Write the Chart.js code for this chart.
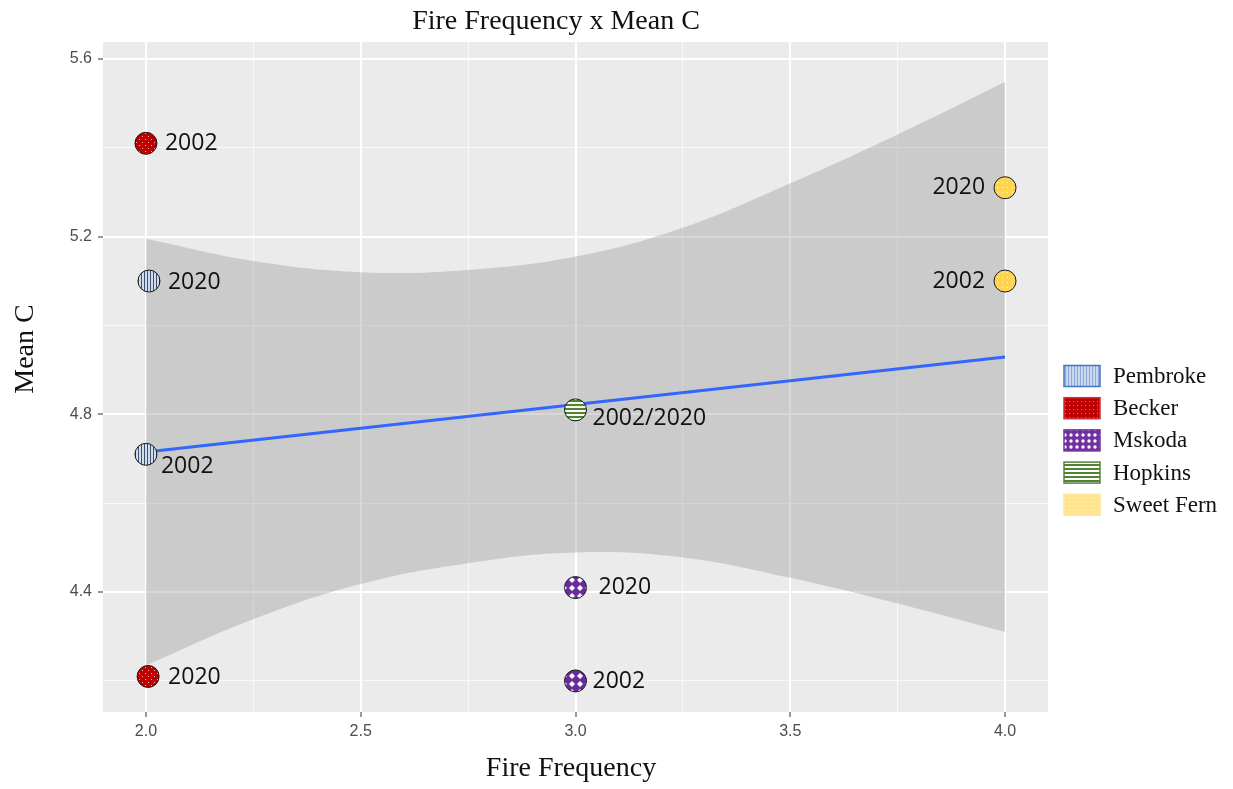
<!DOCTYPE html>
<html lang="en">
<head>
  <meta charset="UTF-8" />
  <title>Fire Frequency x Mean C</title>
  <script src="https://cdn.jsdelivr.net/npm/chart.js"></script>
  <style>
    html, body { margin: 0; padding: 0; background: #fff; }
    #wrap { width: 1233px; height: 789px; }
  </style>
</head>
<body>
  <div id="wrap"><canvas id="chart"></canvas></div>
  <script>
    // observed sites: fire frequency (x), mean C (y), survey year
    const pembroke = [{ x: 2.0, y: 4.71, year: '2002' }, { x: 2.007, y: 5.10, year: '2020' }];
    const becker = [{ x: 2.0, y: 5.41, year: '2002' }, { x: 2.005, y: 4.21, year: '2020' }];
    const mskoda = [{ x: 3.0, y: 4.20, year: '2002' }, { x: 3.0, y: 4.41, year: '2020' }];
    const hopkins = [{ x: 3.0, y: 4.81, year: '2002/2020' }];
    const sweetFern = [{ x: 4.0, y: 5.10, year: '2002' }, { x: 4.0, y: 5.31, year: '2020' }];

    // linear fit and its confidence band
    const fitX = [2, 4];
    const fitY = [4.715, 4.929];
    const bandX = [2, 2.25, 2.5, 2.75, 3, 3.25, 3.5, 3.75, 4];
    const bandUpper = [5.195, 5.145, 5.12, 5.125, 5.155, 5.22, 5.32, 5.43, 5.548];
    const bandLower = [4.235, 4.339, 4.418, 4.465, 4.489, 4.478, 4.432, 4.374, 4.31];

    // axes
    const xGrid = [2, 2.25, 2.5, 2.75, 3, 3.25, 3.5, 3.75, 4];
    const xMajor = [2, 2.5, 3, 3.5, 4];
    const yGrid = [4.2, 4.4, 4.6, 4.8, 5.0, 5.2, 5.4, 5.6];
    const yMajor = [4.4, 4.8, 5.2, 5.6];

    const siteNames = ['Pembroke', 'Becker', 'Mskoda', 'Hopkins', 'Sweet Fern'];
    const siteData = [pembroke, becker, mskoda, hopkins, sweetFern];

    // where each year label sits relative to its point
    const labelPlace = {
      'Pembroke 2002': { dx: 15, dy: 12 },
      'Pembroke 2020': { dx: 19, dy: 1 },
      'Becker 2002': { dx: 19, dy: 0 },
      'Becker 2020': { dx: 20, dy: 1 },
      'Mskoda 2002': { dx: 17, dy: 1 },
      'Mskoda 2020': { dx: 23, dy: 0 },
      'Hopkins 2002/2020': { dx: 17, dy: 9 },
      'Sweet Fern 2002': { dx: -20, dy: 0, right: true },
      'Sweet Fern 2020': { dx: -20, dy: 0, right: true }
    };

    const makePattern = (size, draw) => {
      const c = document.createElement('canvas');
      c.width = size; c.height = size;
      const g = c.getContext('2d');
      draw(g, size);
      return g.createPattern(c, 'repeat');
    };

    const dots = (bg, dot, size, r) => makePattern(size, (g, s) => {
      g.fillStyle = bg; g.fillRect(0, 0, s, s);
      g.fillStyle = dot;
      g.beginPath(); g.arc(s / 2, s / 2, r, 0, Math.PI * 2); g.fill();
    });

    // fills used for the points
    const pointFill = [
      makePattern(3, (g) => { g.fillStyle = '#d3dcea'; g.fillRect(0, 0, 3, 3); g.fillStyle = '#3d5072'; g.fillRect(0, 0, 1, 3); }),
      makePattern(6, (g) => { g.fillStyle = '#c00000'; g.fillRect(0, 0, 6, 6); g.fillStyle = 'rgba(255,220,220,0.8)'; g.fillRect(1, 1, 1, 1); g.fillRect(4, 4, 1, 1); }),
      makePattern(8, (g) => {
        g.fillStyle = '#6a2c9c'; g.fillRect(0, 0, 8, 8);
        g.fillStyle = '#ffffff';
        g.beginPath(); g.moveTo(4, 1); g.lineTo(7, 4); g.lineTo(4, 7); g.lineTo(1, 4); g.closePath(); g.fill();
      }),
      makePattern(4, (g) => { g.fillStyle = '#f4f8f0'; g.fillRect(0, 0, 4, 4); g.fillStyle = '#548235'; g.fillRect(0, 0, 4, 2); }),
      makePattern(5, (g) => { g.fillStyle = '#ffd54f'; g.fillRect(0, 0, 5, 5); g.fillStyle = 'rgba(255,255,255,0.85)'; g.fillRect(2, 2, 1, 1); })
    ];

    // fills and borders used for the legend keys
    const legendFill = [
      makePattern(3, (g) => { g.fillStyle = '#c9d7ef'; g.fillRect(0, 0, 3, 3); g.fillStyle = '#8eaadb'; g.fillRect(0, 0, 1, 3); }),
      makePattern(4, (g) => { g.fillStyle = '#c00000'; g.fillRect(0, 0, 4, 4); g.fillStyle = '#e36b6b'; g.fillRect(1, 1, 1, 1); }),
      dots('#7030a0', '#ffffff', 6, 1.7),
      makePattern(4, (g) => { g.fillStyle = '#ffffff'; g.fillRect(0, 0, 4, 4); g.fillStyle = '#548235'; g.fillRect(0, 0, 4, 2); }),
      makePattern(4, (g) => { g.fillStyle = '#ffe38f'; g.fillRect(0, 0, 4, 4); g.fillStyle = '#fff7dc'; g.fillRect(1, 1, 1, 1); })
    ];
    const legendBorder = ['#4472c4', '#d03030', '#7030a0', '#548235', '#ffe699'];

    const panelPlugin = {
      id: 'panel',
      beforeDraw(chart) {
        const { ctx, chartArea: a } = chart;
        ctx.save();
        ctx.fillStyle = '#ebebeb';
        ctx.fillRect(a.left, a.top, a.right - a.left, a.bottom - a.top);
        ctx.restore();
      }
    };

    const yearLabels = {
      id: 'yearLabels',
      afterDatasetsDraw(chart) {
        const ctx = chart.ctx;
        ctx.save();
        ctx.font = '23px "Open Sans"';
        ctx.fillStyle = '#111';
        ctx.textBaseline = 'middle';
        chart.data.datasets.forEach((ds, i) => {
          if (!ds.site) return;
          chart.getDatasetMeta(i).data.forEach((el, j) => {
            const year = ds.data[j].year;
            const p = labelPlace[ds.site + ' ' + year] || { dx: 18, dy: 0 };
            ctx.textAlign = p.right ? 'right' : 'left';
            ctx.fillText(year, el.x + p.dx, el.y + p.dy);
          });
        });
        ctx.restore();
      }
    };

    const titlesAndLegend = {
      id: 'titlesAndLegend',
      afterDraw(chart) {
        const ctx = chart.ctx;
        ctx.save();
        ctx.fillStyle = '#111';
        ctx.textBaseline = 'middle';
        ctx.textAlign = 'center';
        ctx.font = '28px "Liberation Serif"';
        ctx.fillText('Fire Frequency x Mean C', 556, 22);
        ctx.fillText('Fire Frequency', 571, 769);
        ctx.save();
        ctx.translate(26, 349);
        ctx.rotate(-Math.PI / 2);
        ctx.fillText('Mean C', 0, 0);
        ctx.restore();

        ctx.font = '23px "Liberation Serif"';
        ctx.textAlign = 'left';
        siteNames.forEach((name, i) => {
          const cy = 376 + i * 32.2;
          ctx.fillStyle = legendFill[i];
          ctx.fillRect(1064, cy - 10.5, 36, 21);
          ctx.strokeStyle = legendBorder[i];
          ctx.lineWidth = 1.5;
          ctx.strokeRect(1064, cy - 10.5, 36, 21);
          ctx.fillStyle = '#111';
          ctx.fillText(name, 1113, cy + 1);
        });
        ctx.restore();
      }
    };

    const pointSets = siteNames.map((name, i) => ({
      site: name,
      label: name,
      data: siteData[i],
      pointRadius: 11,
      pointHoverRadius: 11,
      pointBackgroundColor: pointFill[i],
      pointBorderColor: '#1a1a1a',
      pointBorderWidth: 1,
      order: 1
    }));

    const isMajor = (list, c) => list.includes(c.tick && c.tick.value);

    new Chart(document.getElementById('chart'), {
      type: 'scatter',
      data: {
        datasets: [
          ...pointSets,
          {
            type: 'line',
            label: 'fit',
            data: fitX.map((x, i) => ({ x, y: fitY[i] })),
            borderColor: '#3366ff',
            borderWidth: 3,
            pointRadius: 0,
            fill: false,
            order: 2
          },
          {
            type: 'line',
            label: 'upper',
            data: bandX.map((x, i) => ({ x, y: bandUpper[i] })),
            borderWidth: 0,
            borderColor: 'transparent',
            pointRadius: 0,
            tension: 0.4,
            fill: '+1',
            backgroundColor: 'rgba(153,153,153,0.38)',
            order: 3
          },
          {
            type: 'line',
            label: 'lower',
            data: bandX.map((x, i) => ({ x, y: bandLower[i] })),
            borderWidth: 0,
            borderColor: 'transparent',
            pointRadius: 0,
            tension: 0.4,
            fill: false,
            order: 4
          }
        ]
      },
      options: {
        responsive: true,
        maintainAspectRatio: false,
        animation: false,
        layout: { padding: { top: 42, right: 185, left: 0, bottom: 0 } },
        plugins: {
          legend: { display: false },
          tooltip: { enabled: false },
          title: { display: false }
        },
        scales: {
          x: {
            type: 'linear',
            min: 1.9,
            max: 4.1,
            afterBuildTicks: (scale) => { scale.ticks = xGrid.map(v => ({ value: v })); },
            afterFit: (scale) => { scale.height = 77; },
            border: { display: false },
            grid: {
              color: c => isMajor(xMajor, c) ? '#ffffff' : 'rgba(255,255,255,0.7)',
              lineWidth: c => isMajor(xMajor, c) ? 2 : 1,
              tickColor: c => isMajor(xMajor, c) ? '#333333' : 'transparent',
              tickLength: 5,
              tickWidth: 1
            },
            ticks: {
              autoSkip: false,
              maxRotation: 0,
              padding: 5,
              color: '#4d4d4d',
              font: { family: 'Liberation Sans', size: 16 },
              callback: v => xMajor.includes(v) ? v.toFixed(1) : ''
            }
          },
          y: {
            type: 'linear',
            min: 4.13,
            max: 5.638,
            afterBuildTicks: (scale) => { scale.ticks = yGrid.map(v => ({ value: v })); },
            afterFit: (scale) => { scale.width = 103; },
            border: { display: false },
            grid: {
              color: c => isMajor(yMajor, c) ? '#ffffff' : 'rgba(255,255,255,0.7)',
              lineWidth: c => isMajor(yMajor, c) ? 2 : 1,
              tickColor: c => isMajor(yMajor, c) ? '#333333' : 'transparent',
              tickLength: 5,
              tickWidth: 1
            },
            ticks: {
              autoSkip: false,
              padding: 6,
              color: '#4d4d4d',
              font: { family: 'Liberation Sans', size: 16 },
              callback: v => yMajor.includes(v) ? v.toFixed(1) : ''
            }
          }
        }
      },
      plugins: [panelPlugin, yearLabels, titlesAndLegend]
    });
  </script>
</body>
</html>
